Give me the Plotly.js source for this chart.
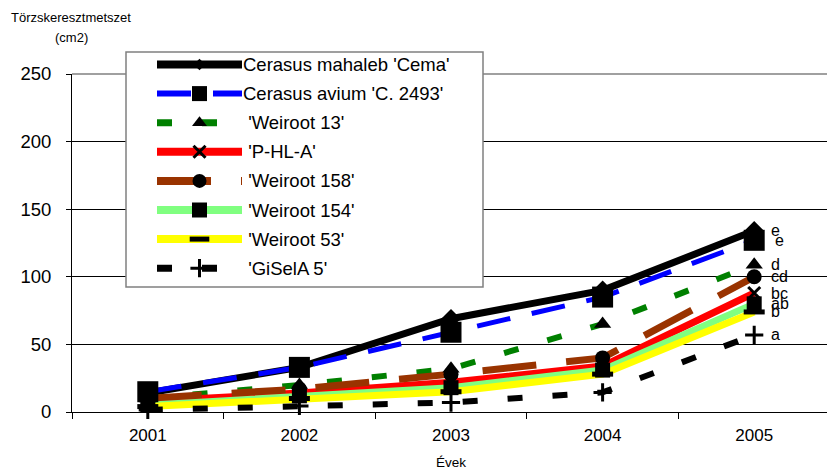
<!DOCTYPE html>
<html><head><meta charset="utf-8">
<script src="https://cdn.plot.ly/plotly-3.0.1.min.js"></script>
<style>html,body{margin:0;padding:0;overflow:hidden;background:#fff}</style>
</head><body><div id="chart" style="width:830px;height:470px"></div>
<script>
// ---- data ----
const years = ['2001', '2002', '2003', '2004', '2005'];
const seriesNames = ["Cerasus mahaleb 'Cema'", "Cerasus avium 'C. 2493'", " 'Weiroot 13'", " 'P-HL-A'", " 'Weiroot 158'", " 'Weiroot 154'", " 'Weiroot 53'", " 'GiSelA 5'"];
const cema = [14, 33, 69, 90, 134];
const avium = [15, 33, 59, 85, 127];
const weiroot13 = [10, 20, 32, 65, 109];
const phla = [8, 14, 22, 34, 88];
const weiroot158 = [10, 17, 28, 40, 100];
const weiroot154 = [5, 12, 18, 31, 80];
const weiroot53 = [4, 10, 15, 28, 74];
const gisela5 = [1.5, 4.5, 7, 14.5, 57];
const sigLetters = ['e', 'e', 'd', 'bc', 'cd', 'ab', 'b', 'a'];
const yTickVals = [0, 50, 100, 150, 200, 250];
const yTitleLines = ['Törzskeresztmetszet', '(cm2)'];
const xTitle = 'Évek';

// ---- styles ----
const values = [cema, avium, weiroot13, phla, weiroot158, weiroot154, weiroot53, gisela5];
const styles = [
  {color: '#000000', width: 7, dash: 'solid', symbol: 'diamond', size: 15, lsize: 9, mline: 0, lshift: 15},
  {color: '#0000FF', width: 5, dash: '34px,22px', symbol: 'square', size: 21, lsize: 15, mline: 0, lshift: 19},
  {color: '#008000', width: 6, dash: '15px,30px', symbol: 'triangle-up', size: 15, lsize: 13, mline: 0, lshift: 15},
  {color: '#FF0000', width: 7, dash: 'solid', symbol: 'x-thin', size: 12, lsize: 12, mline: 3, lshift: 15},
  {color: '#993300', width: 7, dash: '54px,30px', symbol: 'circle', size: 15, lsize: 14, mline: 0, lshift: 15},
  {color: '#80FF80', width: 7, dash: 'solid', symbol: 'square', size: 15, lsize: 15, mline: 0, lshift: 15},
  {color: '#FFFF00', width: 7, dash: 'solid', symbol: 'line-ew', size: 15, lsize: 14, mline: 5, lshift: 15},
  {color: '#000000', width: 6, dash: '15px,30px', symbol: 'cross-thin', size: 13, lsize: 13, mline: 3, lshift: 15}
];

// layout geometry (pixels)
const W = 830, H = 470, ML = 72, MB = 58, PLOT_TOP = 74;
const paperH = H - MB;
const legendBox = {x0: 126, x1: 483, y0: 52, y1: 287};
const legendRow0 = 64.5, legendRowStep = 29.1;
const legendLineX = [157, 242], legendMarkX = 199.5, legendTextX = 241;

const traces = [];
// lines first (all series), then markers — as in the original
values.forEach((v, i) => {
  const s = styles[i];
  traces.push({type: 'scatter', mode: 'lines', x: years, y: v, name: seriesNames[i],
    line: {color: s.color, width: s.width, dash: s.dash}, hoverinfo: 'skip', showlegend: false});
});
values.forEach((v, i) => {
  const s = styles[i];
  traces.push({type: 'scatter', mode: 'markers', x: years, y: v, name: seriesNames[i],
    marker: {symbol: s.symbol, size: s.size, color: '#000', line: {color: '#000', width: s.mline}},
    cliponaxis: false, hoverinfo: 'skip', showlegend: false});
});
// custom legend samples on a pixel-mapped helper subplot
values.forEach((v, i) => {
  const s = styles[i];
  const ry = legendRow0 + i * legendRowStep;
  traces.push({type: 'scatter', mode: 'lines', x: legendLineX, y: [ry, ry], xaxis: 'x2', yaxis: 'y2',
    line: {color: s.color, width: s.width + 1, dash: s.dash}, hoverinfo: 'skip', showlegend: false});
  traces.push({type: 'scatter', mode: 'markers', x: [legendMarkX], y: [ry], xaxis: 'x2', yaxis: 'y2',
    marker: {symbol: s.symbol, size: s.lsize, color: '#000', line: {color: '#000', width: s.mline}},
    hoverinfo: 'skip', showlegend: false});
});

const lastIdx = years.length - 1;
const annotations = [];
values.forEach((v, i) => {
  annotations.push({xref: 'x', yref: 'y', x: lastIdx, y: v[lastIdx], text: sigLetters[i],
    showarrow: false, xanchor: 'left', yanchor: 'middle', xshift: styles[i].lshift,
    font: {size: 16, color: '#000'}});
  const ry = legendRow0 + i * legendRowStep;
  annotations.push({xref: 'x2', yref: 'y2', x: legendTextX, y: ry,
    text: seriesNames[i].replace(/^ /, '\u00a0'), showarrow: false, xanchor: 'left', yanchor: 'middle',
    font: {size: 18.5, color: '#000'}});
});
annotations.push({xref: 'paper', yref: 'paper', x: (71 - ML) / (W - ML), y: (paperH - 18) / paperH,
  text: yTitleLines[0], showarrow: false, xanchor: 'center', yanchor: 'middle', font: {size: 13, color: '#000'}});
annotations.push({xref: 'paper', yref: 'paper', x: (71 - ML) / (W - ML), y: (paperH - 38) / paperH,
  text: yTitleLines[1], showarrow: false, xanchor: 'center', yanchor: 'middle', font: {size: 13, color: '#000'}});
annotations.push({xref: 'paper', yref: 'paper', x: 0.5, y: (paperH - 462) / paperH,
  text: xTitle, showarrow: false, xanchor: 'center', yanchor: 'middle', font: {size: 13.5, color: '#000'}});

const layout = {
  width: W, height: H,
  margin: {l: ML, r: 0, t: 0, b: MB, pad: 0},
  paper_bgcolor: '#ffffff', plot_bgcolor: 'rgba(0,0,0,0)',
  showlegend: false,
  font: {family: '"Liberation Sans", Arial, sans-serif', color: '#000'},
  xaxis: {type: 'category', domain: [0, 1], anchor: 'y', range: [-0.5, 4.5], tickson: 'boundaries',
    ticks: 'outside', ticklen: 6, tickcolor: '#000', showline: true, linecolor: '#000', linewidth: 1,
    showgrid: false, zeroline: false, tickfont: {size: 17}, ticklabelstandoff: 8, fixedrange: true},
  yaxis: {domain: [0, (paperH - PLOT_TOP) / paperH], anchor: 'x', range: [0, 250], tickmode: 'array',
    tickvals: yTickVals, ticks: 'outside', ticklen: 5, tickcolor: '#000', showline: true, linecolor: '#000',
    showgrid: true, gridcolor: '#000', gridwidth: 1, zeroline: false, tickfont: {size: 18.5},
    ticklabelstandoff: 11, fixedrange: true},
  xaxis2: {domain: [0, 1], anchor: 'y2', range: [ML, W], visible: false, fixedrange: true},
  yaxis2: {domain: [0, 1], anchor: 'x2', range: [paperH, 0], visible: false, fixedrange: true},
  shapes: [
    {type: 'line', xref: 'x2', yref: 'y2', x0: ML, x1: W, y0: PLOT_TOP, y1: PLOT_TOP,
      line: {color: '#808080', width: 1.5}, layer: 'below'},
    {type: 'rect', xref: 'x2', yref: 'y2', x0: legendBox.x0, x1: legendBox.x1, y0: legendBox.y0, y1: legendBox.y1,
      line: {color: '#808080', width: 1.5}, fillcolor: '#ffffff', layer: 'below'}
  ],
  annotations: annotations
};

Plotly.newPlot('chart', traces, layout, {staticPlot: true, displayModeBar: false});
</script>
</body></html>
